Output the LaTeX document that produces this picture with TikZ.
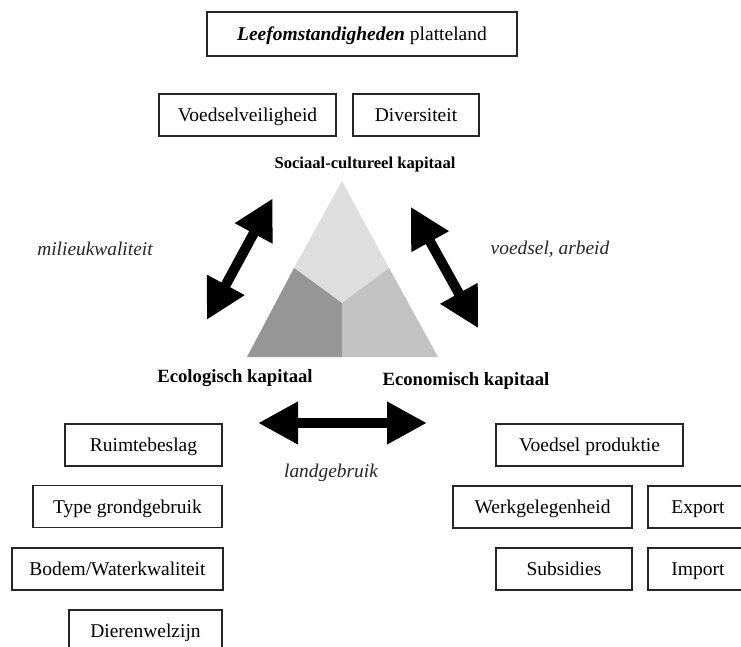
\documentclass[tikz,border=0pt]{standalone}
\usepackage{fontspec}
\setmainfont{Liberation Serif}
\usetikzlibrary{arrows.meta}
\definecolor{tritop}{gray}{0.87}
\definecolor{trileft}{gray}{0.59}
\definecolor{triright}{gray}{0.76}
\begin{document}
\begin{tikzpicture}[x=1pt,y=-1pt,
  box/.style={draw=black!85, line width=1.1pt, inner sep=0pt, minimum height=42pt, text height=13pt, text depth=0pt, font=\fontsize{19.5}{21}\selectfont},
  kaplabel/.style={font=\bfseries\fontsize{18.7}{20}\selectfont, anchor=base, inner sep=0pt},
  rel/.style={font=\itshape\fontsize{19.4}{21}\selectfont, anchor=base, text=black!85, inner sep=0pt},
  fat/.style={line width=10pt, {Triangle[length=40pt,width=40pt]}-{Triangle[length=40pt,width=40pt]}},
]
\useasboundingbox (0,0) rectangle (741,646);
\clip (0,0) rectangle (741,646);

% title
\node[box, minimum width=310pt, minimum height=44pt] (title) at (362,34) {\textbf{\textit{Leefomstandigheden}} platteland};

% social boxes
\node[box, minimum width=177pt] (vv) at (247.5,115) {Voedselveiligheid};
\node[box, minimum width=126pt] (div) at (416,115) {Diversiteit};

% triangle
\coordinate (A) at (342,181);
\coordinate (BL) at (247,357);
\coordinate (BR) at (438,357);
\coordinate (M) at (342,303);
\coordinate (L) at (294,268);
\coordinate (R) at (389,268);
\coordinate (Bm) at (342,357);
\fill[tritop] (A) -- (L) -- (M) -- (R) -- cycle;
\fill[trileft] (L) -- (BL) -- (Bm) -- (M) -- cycle;
\fill[triright] (M) -- (Bm) -- (BR) -- (R) -- cycle;

% capital labels
\node[kaplabel, font=\bfseries\fontsize{16.6}{18}\selectfont] (soc) at (365,168) {Sociaal-cultureel kapitaal};
\node[kaplabel] (eco) at (235,382) {Ecologisch kapitaal};
\node[kaplabel] (econ) at (466,385) {Economisch kapitaal};

% arrows
\coordinate (la1) at (206.7,320);
\coordinate (la2) at (272.7,198.3);
\coordinate (ra1) at (410.7,206.7);
\coordinate (ra2) at (478.3,328.3);
\coordinate (ha1) at (258,423);
\coordinate (ha2) at (427,423);
\draw[fat] (la1) -- (la2);
\draw[fat] (ra1) -- (ra2);
\draw[fat] (ha1) -- (ha2);

% relation labels
\node[rel] (milieu) at (95,255) {milieukwaliteit};
\node[rel] (voedsel) at (550,254) {voedsel, arbeid};
\node[rel] (land) at (331,477) {landgebruik};

% ecological boxes
\node[box, minimum width=157pt] (ruimte) at (143.5,445) {Ruimtebeslag};
\node[box, minimum width=189pt] (type) at (127.5,506.5) {Type grondgebruik};
\node[box, minimum width=211pt] (bodem) at (117.5,569) {Bodem/Waterkwaliteit};
\node[box, minimum width=153pt] (dier) at (145.5,631) {Dierenwelzijn};

% economic boxes
\node[box, minimum width=187pt] (vp) at (589.5,445) {Voedsel produktie};
\node[box, minimum width=179pt] (werk) at (542.5,507) {Werkgelegenheid};
\node[box, minimum width=100pt] (exp) at (698,507) {Export};
\node[box, minimum width=136pt] (subs) at (564,569) {Subsidies};
\node[box, minimum width=100pt] (imp) at (698,569) {Import};
\end{tikzpicture}
\end{document}
